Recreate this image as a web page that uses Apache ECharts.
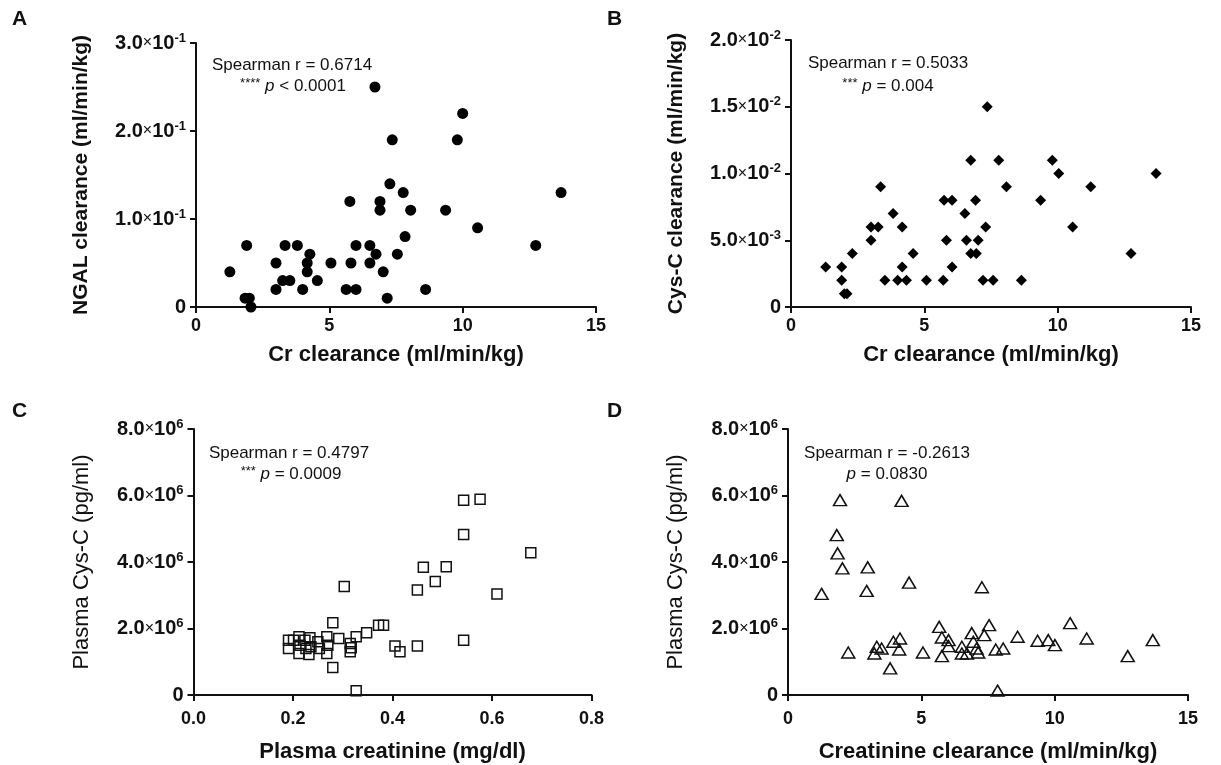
<!DOCTYPE html>
<html>
<head>
<meta charset="utf-8">
<script src="https://cdn.jsdelivr.net/npm/echarts@6/dist/echarts.min.js"></script>
<style>
html,body{margin:0;padding:0;background:#fff;}
#chart{width:1221px;height:765px;}
</style>
</head>
<body>
<div id="chart"></div>
<script>
// ---------- Panel A: Cr clearance vs NGAL clearance ----------
const crClearanceA = [1.27,1.90,1.84,2.00,2.06,3.00,3.00,3.34,3.25,3.52,3.80,4.00,4.27,4.17,4.17,4.55,5.06,5.77,5.81,5.63,6.00,6.00,6.52,6.52,6.75,6.71,6.90,6.90,7.02,7.17,7.27,7.36,7.55,7.77,7.84,8.05,10.00,9.80,9.36,10.56,12.74,13.69,8.61];
const ngalClearanceA = [0.04,0.07,0.01,0.01,0.00,0.05,0.02,0.07,0.03,0.03,0.07,0.02,0.06,0.05,0.04,0.03,0.05,0.12,0.05,0.02,0.02,0.07,0.07,0.05,0.06,0.25,0.12,0.11,0.04,0.01,0.14,0.19,0.06,0.13,0.08,0.11,0.22,0.19,0.11,0.09,0.07,0.13,0.02];

// ---------- Panel B: Cr clearance vs Cys-C clearance ----------
const crClearanceB = [1.30,1.90,1.90,2.00,2.10,2.30,3.00,3.00,3.27,3.36,3.52,3.83,4.00,4.33,4.17,4.17,4.58,5.08,5.71,5.83,5.74,6.04,6.04,6.52,6.58,6.74,6.74,6.95,6.92,7.02,7.30,7.36,7.20,7.58,7.79,8.08,8.64,9.80,10.04,9.36,11.24,10.56,12.75,13.69];
const cysClearanceB = [0.003,0.003,0.002,0.001,0.001,0.004,0.006,0.005,0.006,0.009,0.002,0.007,0.002,0.002,0.006,0.003,0.004,0.002,0.002,0.005,0.008,0.008,0.003,0.007,0.005,0.011,0.004,0.004,0.008,0.005,0.006,0.015,0.002,0.002,0.011,0.009,0.002,0.011,0.010,0.008,0.009,0.006,0.004,0.010];

// ---------- Panel C: Plasma creatinine vs plasma Cys-C ----------
const plasmaCreatC = [0.303,0.280,0.280,0.327,0.327,0.348,0.372,0.382,0.405,0.415,
  0.191,0.191,0.201,0.212,0.214,0.212,0.224,0.226,0.234,0.236,0.232,0.250,0.253,0.268,0.270,0.268,0.292,0.315,0.317,0.315,
  0.543,0.576,0.543,0.678,0.462,0.508,0.486,0.450,0.610,0.450,0.543];
const plasmaCysC = [3.26e6,2.17e6,0.83e6,0.13e6,1.75e6,1.87e6,2.10e6,2.10e6,1.47e6,1.30e6,
  1.65e6,1.40e6,1.65e6,1.75e6,1.50e6,1.25e6,1.65e6,1.40e6,1.72e6,1.45e6,1.22e6,1.60e6,1.40e6,1.75e6,1.50e6,1.25e6,1.70e6,1.55e6,1.42e6,1.30e6,
  5.86e6,5.89e6,4.83e6,4.28e6,3.84e6,3.86e6,3.41e6,3.16e6,3.04e6,1.47e6,1.65e6];

// ---------- Panel D: Creatinine clearance vs plasma Cys-C ----------
const crClearanceD = [1.95,4.26,1.83,1.86,2.04,2.99,4.54,2.95,1.26,7.27,2.26,3.24,3.33,3.51,3.83,3.95,4.20,4.17,5.06,5.67,5.77,6.02,6.02,5.77,6.52,6.52,6.71,6.89,6.95,7.07,7.13,7.36,7.54,7.79,8.07,7.86,8.61,9.36,9.76,10.01,10.58,11.20,12.74,13.68];
const plasmaCysD = [5.86e6,5.84e6,4.81e6,4.26e6,3.81e6,3.84e6,3.38e6,3.13e6,3.04e6,3.24e6,1.28e6,1.25e6,1.45e6,1.40e6,0.80e6,1.60e6,1.70e6,1.37e6,1.28e6,2.05e6,1.73e6,1.65e6,1.47e6,1.17e6,1.45e6,1.25e6,1.25e6,1.86e6,1.60e6,1.40e6,1.28e6,1.80e6,2.10e6,1.37e6,1.40e6,0.13e6,1.75e6,1.63e6,1.65e6,1.50e6,2.16e6,1.70e6,1.17e6,1.65e6];

// ---------- Tick labels ----------
const xTicksClearance = ['0','5','10','15'];
const xTicksCreat = ['0.0','0.2','0.4','0.6','0.8'];
const yTicksA = ['0','1.0×10^-1','2.0×10^-1','3.0×10^-1'];
const yTicksB = ['0','5.0×10^-3','1.0×10^-2','1.5×10^-2','2.0×10^-2'];
const yTicksCD = ['0','2.0×10^6','4.0×10^6','6.0×10^6','8.0×10^6'];

// ---------- Texts ----------
const panelLetters = ['A','B','C','D'];
const xTitles = ['Cr clearance (ml/min/kg)','Cr clearance (ml/min/kg)','Plasma creatinine (mg/dl)','Creatinine clearance (ml/min/kg)'];
const yTitles = ['NGAL clearance (ml/min/kg)','Cys-C clearance (ml/min/kg)','Plasma Cys-C (pg/ml)','Plasma Cys-C (pg/ml)'];
const statR = ['Spearman r = 0.6714','Spearman r = 0.5033','Spearman r = 0.4797','Spearman r = -0.2613'];
const statStars = ['****','***','***',''];
const statP = ['< 0.0001','= 0.004','= 0.0009','= 0.0830'];

const FONT = '"Liberation Sans", Arial, sans-serif';
const INK = '#111';

function zip(xs, ys){ return xs.map((x,i)=>[x, ys[i]]); }

function yFmt(labels, interval){
  return function(v){
    const s = labels[Math.round(v/interval)];
    if (s === undefined) return '';
    if (s.indexOf('^') < 0) return '{b|' + s + '}';
    const parts = s.split('^');
    const base = parts[0].split('×');
    return '{b|' + base[0] + '}{x|×}{b|' + base[1] + '}{s|' + parts[1] + '}';
  };
}
function xFmt(labels, interval){
  return function(v){
    const s = labels[Math.round(v/interval)];
    return s === undefined ? '' : s;
  };
}
const yRich = {
  b: {fontSize: 20, fontWeight: 'bold', color: INK, fontFamily: FONT, lineHeight: 23},
  x: {fontSize: 16, fontWeight: 'normal', color: INK, fontFamily: FONT, lineHeight: 23},
  s: {fontSize: 13, fontWeight: 'bold', color: INK, fontFamily: FONT, verticalAlign: 'top', lineHeight: 13}
};

const grids = [
  {left: 196, top: 43, width: 400, height: 264},
  {left: 791, top: 40, width: 400, height: 267},
  {left: 193.5, top: 429, width: 398, height: 266},
  {left: 788, top: 429, width: 400, height: 266}
];

const axisCommon = {
  type: 'value',
  splitLine: {show: false},
  nameMoveOverlap: false,
  axisLine: {show: true, onZero: false, lineStyle: {color: INK, width: 2}},
  axisTick: {show: true, inside: false, length: 6, lineStyle: {color: INK, width: 2}}
};

const xSpecs = [
  {max: 15, interval: 5, labels: xTicksClearance, margin: 10, gap: 37},
  {max: 15, interval: 5, labels: xTicksClearance, margin: 10, gap: 37},
  {max: 0.8, interval: 0.2, labels: xTicksCreat, margin: 15, gap: 46},
  {max: 15, interval: 5, labels: xTicksClearance, margin: 15, gap: 46}
];
const ySpecs = [
  {max: 0.3, interval: 0.1, labels: yTicksA, gap: 104, size: 21, weight: 'bold'},
  {max: 0.02, interval: 0.005, labels: yTicksB, gap: 104, size: 21, weight: 'bold'},
  {max: 8e6, interval: 2e6, labels: yTicksCD, gap: 101, size: 22, weight: 'normal'},
  {max: 8e6, interval: 2e6, labels: yTicksCD, gap: 101, size: 22, weight: 'normal'}
];

const xAxes = xSpecs.map((s,i)=>Object.assign({}, axisCommon, {
  gridIndex: i, min: 0, max: s.max, interval: s.interval,
  axisLabel: {formatter: xFmt(s.labels, s.interval), margin: s.margin, fontSize: 18, fontWeight: 'bold', color: INK, fontFamily: FONT},
  name: xTitles[i], nameLocation: 'middle', nameGap: s.gap,
  nameTextStyle: {fontSize: 22, fontWeight: 'bold', color: INK, fontFamily: FONT}
}));
const yAxes = ySpecs.map((s,i)=>Object.assign({}, axisCommon, {
  gridIndex: i, min: 0, max: s.max, interval: s.interval,
  axisLabel: {formatter: yFmt(s.labels, s.interval), margin: 10, rich: yRich, color: INK},
  name: yTitles[i], nameLocation: 'middle', nameGap: s.gap,
  nameTextStyle: {fontSize: s.size, fontWeight: s.weight, color: INK, fontFamily: FONT}
}));

const series = [
  {type: 'scatter', xAxisIndex: 0, yAxisIndex: 0, data: zip(crClearanceA, ngalClearanceA),
   symbol: 'circle', symbolSize: 11, itemStyle: {color: '#000', opacity: 1}, clip: false},
  {type: 'scatter', xAxisIndex: 1, yAxisIndex: 1, data: zip(crClearanceB, cysClearanceB),
   symbol: 'diamond', symbolSize: [11, 11], itemStyle: {color: '#000', opacity: 1}, clip: false},
  {type: 'scatter', xAxisIndex: 2, yAxisIndex: 2, data: zip(plasmaCreatC, plasmaCysC),
   symbol: 'rect', symbolSize: 10, itemStyle: {color: 'rgba(255,255,255,0)', borderColor: '#111', borderWidth: 1.5, opacity: 1}, clip: false},
  {type: 'scatter', xAxisIndex: 3, yAxisIndex: 3, data: zip(crClearanceD, plasmaCysD),
   symbol: 'triangle', symbolSize: [13, 11], itemStyle: {color: 'rgba(255,255,255,0)', borderColor: '#111', borderWidth: 1.5, opacity: 1}, clip: false}
];

const letterPos = [[20,20],[615,20],[20,412],[615,412]];
const statPos = [[292,65,293,86],[888,63,888,86],[289,453,291,474],[887,453,887,474]];
const graphic = [];
panelLetters.forEach((L,i)=>{
  graphic.push({type: 'text', left: letterPos[i][0]-8, top: letterPos[i][1]-11,
    style: {text: L, fontSize: 21, fontWeight: 'bold', fill: INK, fontFamily: FONT}});
});
statR.forEach((t,i)=>{
  const p = statPos[i];
  graphic.push({type: 'text', x: p[0], y: p[1],
    style: {text: t, fontSize: 17, fill: INK, fontFamily: FONT, align: 'center', verticalAlign: 'middle'}});
  const line2 = (statStars[i] ? '{st|' + statStars[i] + '} ' : '') + '{it|p} ' + statP[i];
  graphic.push({type: 'text', x: p[2], y: p[3],
    style: {text: line2, fontSize: 17, fill: INK, fontFamily: FONT, align: 'center', verticalAlign: 'middle',
      rich: {
        st: {fontSize: 13, fill: INK, fontFamily: FONT, verticalAlign: 'top', lineHeight: 13},
        it: {fontSize: 17, fontStyle: 'italic', fill: INK, fontFamily: FONT, lineHeight: 19}
      }}});
});

const chart = echarts.init(document.getElementById('chart'), null, {renderer: 'canvas'});
chart.setOption({
  backgroundColor: '#fff',
  animation: false,
  textStyle: {fontFamily: FONT},
  grid: grids,
  xAxis: xAxes,
  yAxis: yAxes,
  series: series,
  graphic: graphic
});
</script>
</body>
</html>
